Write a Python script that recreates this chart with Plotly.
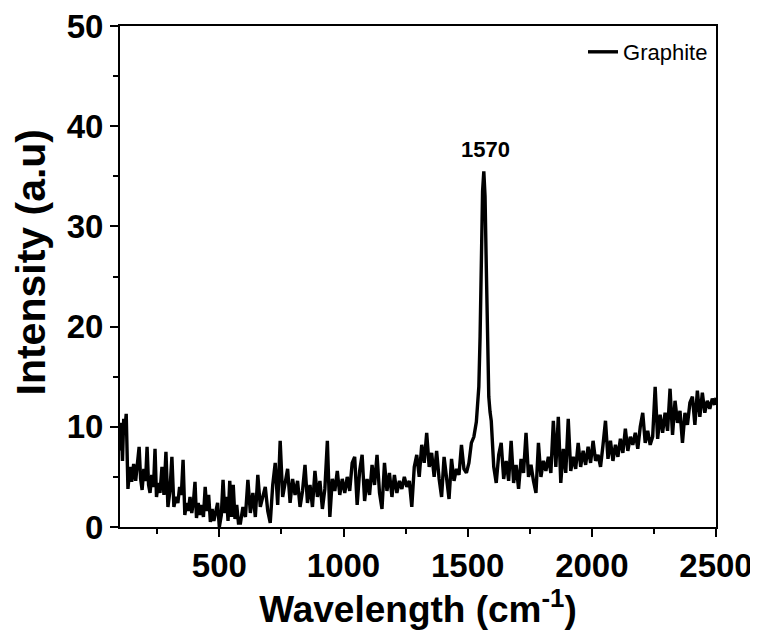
import plotly.graph_objects as go

wavenumber = [
    100, 105, 110, 115, 120, 125, 132, 140, 147, 155, 163, 171, 177, 183, 189, 196, 203, 209, 215, 221,
    228, 235, 241, 247, 254, 261, 269, 277, 285, 293, 301, 309, 317, 325, 333, 340, 347, 354, 361, 368,
    375, 382, 389, 396, 402, 408, 415, 422, 429, 436, 443, 450, 457, 464, 471, 478, 486, 493, 500, 508,
    515, 522, 529, 535, 542, 549, 556, 563, 570, 577,
    585, 595, 605, 615, 625, 635, 645, 655, 665, 675, 685, 695, 705, 715, 725, 735, 745, 755, 765, 775,
    785, 795, 805, 815, 825, 835, 845, 855, 865, 875, 885, 895, 905, 915, 925, 935, 945, 955, 965, 975,
    985, 995, 1005, 1015, 1025, 1035, 1045, 1055, 1065,
    1075, 1085, 1095, 1105, 1115, 1125, 1135, 1145, 1155, 1165, 1175, 1185, 1195, 1205, 1215, 1225,
    1235, 1245, 1255, 1265, 1275, 1285, 1295, 1305, 1315, 1325, 1335, 1345, 1355, 1365, 1375, 1385,
    1395, 1405, 1415, 1425, 1435, 1445, 1455, 1465, 1475, 1485, 1495, 1505, 1515, 1525, 1535,
    1545, 1550, 1555, 1560, 1565, 1570, 1575, 1580, 1585, 1590, 1595,
    1605, 1615, 1625, 1635, 1645, 1655, 1665, 1675, 1685, 1695, 1705, 1715, 1725, 1735, 1745, 1755,
    1765, 1775, 1785, 1795, 1805, 1815, 1825, 1835, 1845, 1855, 1865, 1875, 1885, 1895, 1905, 1915,
    1925, 1935, 1945, 1955, 1965, 1975, 1985, 1995, 2005, 2015, 2025, 2035, 2045, 2055, 2065, 2075,
    2085, 2095, 2105, 2115, 2125, 2135, 2145, 2155, 2165, 2175, 2185, 2195, 2205, 2215, 2225, 2235,
    2245, 2255, 2265, 2275, 2285, 2295, 2305, 2315, 2325, 2335, 2345, 2355, 2365, 2375, 2385, 2395,
    2405, 2415, 2425, 2435, 2445, 2455, 2465, 2475, 2485, 2495, 2500,
]

intensity = [
    7.6, 10.4, 6.6, 10.8, 9.8, 11.3, 3.8, 6.0, 4.5, 6.3, 4.6, 6.2, 8.0, 4.8, 3.7, 5.8, 4.6, 8.0, 4.2, 3.4,
    5.2, 4.0, 7.8, 3.0, 4.4, 3.4, 6.0, 3.2, 7.5, 2.0, 3.6, 7.0, 2.0, 3.0, 2.4, 4.0, 3.2, 6.7, 1.2, 2.4,
    1.6, 3.0, 1.4, 2.6, 4.5, 0.9, 2.4, 1.2, 2.2, 1.0, 4.0, 1.6, 3.2, 0.5, 1.8, 0.6, 1.6, 2.4, 0.0, 1.2,
    4.7, 1.4, 3.0, 0.6, 4.6, 1.0, 4.2, 0.8, 2.2, 0.4,
    0.4, 2.0, 1.0, 4.7, 1.4, 3.4, 1.0, 5.2, 2.0, 3.0, 4.0, 1.6, 0.4, 4.2, 6.4, 2.2, 8.6, 3.0, 4.6, 5.8,
    2.4, 4.8, 3.2, 4.6, 2.0, 3.6, 6.2, 2.4, 4.2, 2.0, 5.6, 3.0, 4.6, 1.8, 3.8, 8.6, 1.0, 4.8, 3.6, 5.6,
    3.2, 4.8, 3.4, 5.0, 3.6, 6.4, 7.0, 2.2, 5.6,
    7.2, 2.6, 4.8, 3.2, 6.2, 4.2, 7.2, 3.4, 1.8, 6.4, 3.6, 5.4, 3.0, 5.2, 3.4, 4.6,
    3.8, 5.0, 4.0, 4.6, 2.0, 6.0, 7.2, 5.0, 8.2, 6.4, 9.4, 6.0, 7.4, 5.0, 7.6, 4.8,
    3.0, 7.0, 5.2, 2.8, 6.8, 4.6, 5.8, 5.2, 8.2, 5.8, 5.4, 6.4, 8.4, 9.0, 10.5,
    14.0, 19.0, 27.0, 33.5, 35.5, 33.0, 26.0, 18.0, 13.0, 11.5, 10.6,
    6.0, 4.4, 7.2, 8.4, 4.8, 6.6, 4.6, 8.6, 4.4, 6.2, 3.8, 6.8, 5.4, 9.4, 5.0, 6.2,
    4.6, 3.4, 8.4, 5.0, 6.6, 5.6, 7.0, 5.4, 10.6, 6.0, 11.0, 4.4, 7.8, 5.4, 10.8, 5.6,
    7.0, 5.8, 8.4, 6.0, 7.6, 6.2, 8.0, 6.4, 8.6, 6.6, 7.2, 6.0, 8.2, 10.6, 6.8, 8.6,
    6.6, 8.2, 7.0, 8.8, 7.4, 9.8, 7.6, 9.0, 8.2, 9.4, 7.8, 10.0, 11.4, 8.4, 9.6, 8.2,
    9.0, 14.0, 8.8, 11.2, 9.4, 11.4, 9.6, 13.8, 9.2, 12.6, 10.4, 11.6, 8.4, 11.4, 10.2, 12.4,
    13.0, 10.2, 13.6, 11.0, 13.4, 11.4, 12.6, 11.8, 12.8, 12.2, 12.9,
]

x_ticks = [500, 1000, 1500, 2000, 2500]
y_ticks = [0, 10, 20, 30, 40, 50]
peak_label = "1570"
peak_pos = (1570, 37.7)
x_title = "<b>Wavelength (cm<sup>-1</sup>)</b>"
y_title = "<b>Intensity (a.u)</b>"

FONT = "Liberation Sans, Arial, sans-serif"

fig = go.Figure()
fig.add_trace(go.Scatter(
    x=wavenumber, y=intensity, mode="lines", name="Graphite",
    line=dict(color="black", width=3.4),
))

fig.add_annotation(
    x=peak_pos[0], y=peak_pos[1], text="<b>" + peak_label + "</b>",
    showarrow=False, font=dict(family=FONT, size=22, color="black"),
)

# y-axis title placed as rotated annotation for precise positioning
fig.add_annotation(
    xref="paper", yref="paper", x=0, y=0.5, xshift=-90, yshift=14,
    xanchor="center", yanchor="middle",
    text=y_title, textangle=-90, showarrow=False,
    font=dict(family=FONT, size=41, color="black"),
)

axis_common = dict(
    showline=True, linecolor="black", linewidth=2, mirror=True,
    showgrid=False, zeroline=False, ticks="outside", tickcolor="black",
    tickwidth=2, ticklen=8, automargin=False, ticklabeloverflow="allow",
    tickfont=dict(family=FONT, size=33, color="black", weight="bold"),
)

fig.update_xaxes(
    range=[100, 2500], tickvals=x_ticks, ticktext=[str(v) for v in x_ticks],
    minor=dict(tickvals=[250, 750, 1250, 1750, 2250], ticklen=5, tickwidth=1.5, tickcolor="black", ticks="outside"),
    title=dict(text=x_title, font=dict(family=FONT, size=37, color="black"), standoff=0),
    **axis_common,
)
fig.update_yaxes(
    range=[0, 50], tickvals=y_ticks, ticktext=[str(v) for v in y_ticks],
    minor=dict(dtick=5, ticklen=5, tickwidth=1.5, tickcolor="black", ticks="outside"),
    **axis_common,
)

fig.update_layout(
    width=750, height=631,
    margin=dict(l=112, r=42, t=18, b=112),
    plot_bgcolor="white", paper_bgcolor="white",
    showlegend=True,
    legend=dict(
        x=0.995, y=0.99, xanchor="right", yanchor="top",
        bgcolor="rgba(0,0,0,0)", borderwidth=0,
        font=dict(family=FONT, size=22, color="black"),
        itemwidth=30,
    ),
)

fig.write_html("out.html")
